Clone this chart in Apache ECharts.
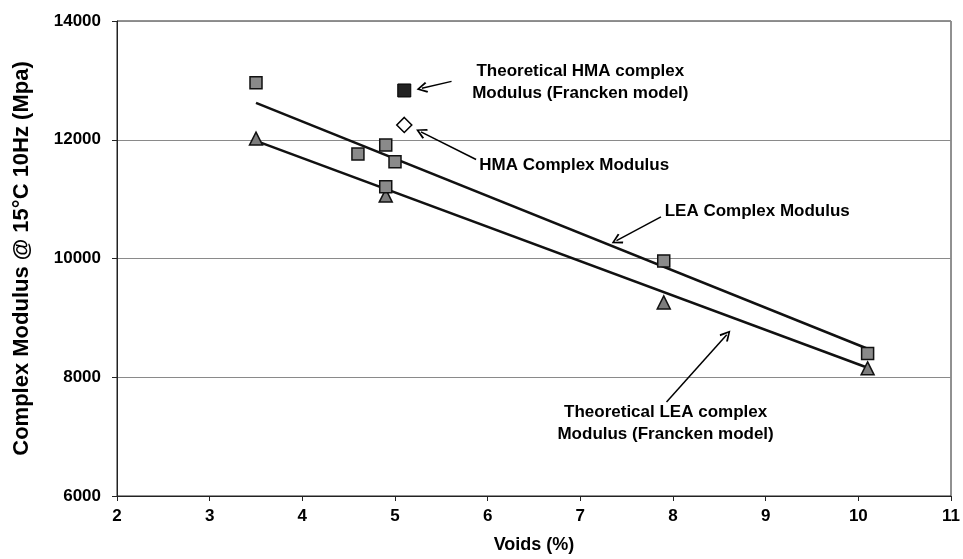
<!DOCTYPE html>
<html>
<head>
<meta charset="utf-8">
<script src="https://cdn.jsdelivr.net/npm/echarts@6/dist/echarts.min.js"></script>
<style>
  html, body { margin: 0; padding: 0; background: #fff; }
  #chart { width: 963px; height: 559px; }
</style>
</head>
<body>
<div id="chart"></div>
<script>
// measured values (voids %, modulus MPa)
var leaMeasured = [[3.5, 12960], [4.6, 11760], [4.9, 11910], [5.0, 11630], [4.9, 11210], [7.9, 9960], [10.1, 8400]]
var leaTheory = [[3.5, 12020], [4.9, 11060], [7.9, 9260], [10.1, 8150]]
var hmaMeasured = [[5.1, 12250]]
var hmaTheory = [[5.1, 12830]]
// trendline ends
var leaTrend = [[3.5, 12620], [10.1, 8480]]
var theoryTrend = [[3.5, 11980], [10.1, 8160]]

var xTicks = [2, 11, 1]
var yTicks = [6000, 14000, 2000]

// annotation text + arrows (data coords)
var notes = [
  { text: 'Theoretical HMA complex\nModulus (Francken model)', at: [7.0, 12960], align: 'center' },
  { text: 'HMA Complex Modulus', at: [5.91, 11573], align: 'left' },
  { text: 'LEA Complex Modulus', at: [7.91, 10803], align: 'left' },
  { text: 'Theoretical LEA complex\nModulus (Francken model)', at: [7.92, 7220], align: 'center' }
]
var arrows = [
  [[5.61, 12983], [5.29, 12867]],
  [[5.875, 11667], [5.28, 12133]],
  [[7.87, 10700], [7.39, 10300]],
  [[7.93, 7583], [8.58, 8717]]
]

var FONT = 'Liberation Sans'
var chevron = 'path://M5,0 L10,9 L8.6,10 L5,3 L1.4,10 L0,9 Z'

var chart = echarts.init(document.getElementById('chart'))

chart.setOption({
  backgroundColor: '#fff',
  animation: false,
  textStyle: { fontFamily: FONT, color: '#000' },
  grid: {
    left: 117,
    right: 10,
    top: 21,
    bottom: 63,
    show: true,
    borderColor: '#222',
    borderWidth: 1
  },
  xAxis: {
    type: 'value',
    min: xTicks[0],
    max: xTicks[1],
    interval: xTicks[2],
    name: 'Voids (%)',
    nameLocation: 'middle',
    nameGap: 40,
    nameTextStyle: { fontSize: 18, fontWeight: 'bold', fontFamily: FONT, color: '#000' },
    axisLine: { lineStyle: { color: '#222', width: 1 } },
    axisTick: { show: true, length: 5, lineStyle: { color: '#222' } },
    axisLabel: { fontSize: 17, fontWeight: 'bold', color: '#000', margin: 12 },
    splitLine: { show: false }
  },
  yAxis: {
    type: 'value',
    min: yTicks[0],
    max: yTicks[1],
    interval: yTicks[2],
    name: 'Complex Modulus @ 15°C 10Hz (Mpa)',
    nameLocation: 'middle',
    nameRotate: 90,
    nameGap: 84,
    nameTextStyle: { fontSize: 22, fontWeight: 'bold', fontFamily: FONT, color: '#000' },
    axisLine: { show: true, lineStyle: { color: '#222', width: 1 } },
    axisTick: { show: true, length: 5, lineStyle: { color: '#222' } },
    axisLabel: {
      fontSize: 17,
      fontWeight: 'bold',
      color: '#000',
      margin: 16,
      formatter: function (v) { return String(v) }
    },
    splitLine: { show: true, lineStyle: { color: '#8a8a8a', width: 1 } }
  },
  series: [
    {
      name: 'LEA trend',
      type: 'line',
      data: leaTrend,
      symbol: 'none',
      lineStyle: { color: '#111', width: 2.5 },
      z: 2
    },
    {
      name: 'Theoretical trend',
      type: 'line',
      data: theoryTrend,
      symbol: 'none',
      lineStyle: { color: '#111', width: 2.5 },
      z: 2
    },
    {
      name: 'Theoretical LEA',
      type: 'scatter',
      data: leaTheory,
      symbol: 'triangle',
      symbolSize: 13,
      itemStyle: { color: '#7d7d7d', borderColor: '#111', borderWidth: 1.5, opacity: 1 },
      z: 3
    },
    {
      name: 'LEA Complex Modulus',
      type: 'scatter',
      data: leaMeasured,
      symbol: 'rect',
      symbolSize: 12,
      itemStyle: { color: '#8a8a8a', borderColor: '#111', borderWidth: 1.5, opacity: 1 },
      z: 4
    },
    {
      name: 'Theoretical HMA',
      type: 'scatter',
      data: hmaTheory,
      symbol: 'rect',
      symbolSize: 13,
      itemStyle: { color: '#222', borderColor: '#000', borderWidth: 1, opacity: 1 },
      z: 4
    },
    {
      name: 'HMA Complex Modulus',
      type: 'scatter',
      data: hmaMeasured,
      symbol: 'diamond',
      symbolSize: 15,
      itemStyle: { color: '#fff', borderColor: '#000', borderWidth: 1.5, opacity: 1 },
      z: 4
    },
    {
      name: 'notes',
      type: 'scatter',
      silent: true,
      symbolSize: 0,
      itemStyle: { opacity: 1 },
      data: notes.map(function (n) {
        return {
          value: n.at,
          label: {
            show: true,
            position: 'inside',
            formatter: n.text,
            align: n.align,
            verticalAlign: 'middle',
            fontSize: 17,
            lineHeight: 22,
            fontWeight: 'bold',
            fontFamily: FONT,
            color: '#000',
            textBorderWidth: 0
          }
        }
      }),
      markLine: {
        silent: true,
        symbol: ['none', chevron],
        symbolSize: [11, 11],
        label: { show: false },
        lineStyle: { color: '#000', width: 1.5, type: 'solid', opacity: 1 },
        data: arrows.map(function (a) {
          return [{ coord: a[0] }, { coord: a[1] }]
        })
      },
      z: 5
    }
  ]
})
</script>
</body>
</html>
